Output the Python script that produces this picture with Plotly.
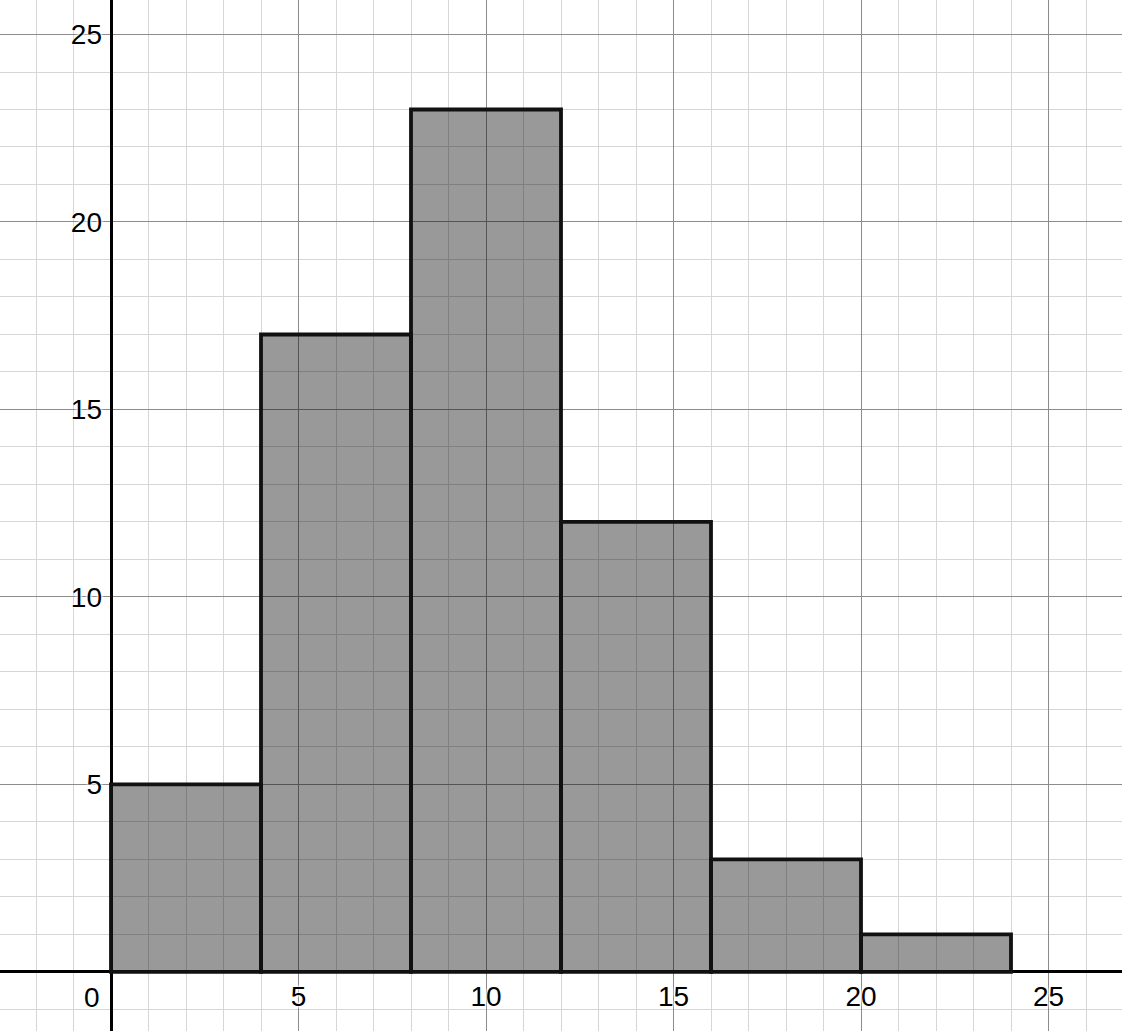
import plotly.graph_objects as go

# Data
bin_starts = [0, 4, 8, 12, 16, 20]
bin_width = 4
counts = [5, 17, 23, 12, 3, 1]
x_tick_vals = [5, 10, 15, 20, 25]
y_tick_vals = [5, 10, 15, 20, 25]

x_range = [-2.96, 26.96]
y_range = [-1.575, 25.92]

centers = [s + bin_width / 2 for s in bin_starts]

fig = go.Figure()
fig.add_trace(go.Bar(
    x=centers, y=counts, width=[bin_width] * len(counts),
    marker=dict(color="rgba(0,0,0,0.4)", line=dict(color="#111111", width=3.8)),
    showlegend=False, hoverinfo="skip",
))

x0frac = (0 - y_range[0]) / (y_range[1] - y_range[0])
y0frac = (0 - x_range[0]) / (x_range[1] - x_range[0])

halo = "0px 0px 3px white, 0px 0px 3px white, 0px 0px 3px white"
tfont = dict(family="Liberation Sans, Arial, sans-serif", size=28, color="#000000", shadow=halo)

fig.update_layout(
    width=1122, height=1031,
    margin=dict(l=0, r=0, t=0, b=0),
    plot_bgcolor="white", paper_bgcolor="white",
    xaxis=dict(
        range=x_range, tickmode="array", tickvals=x_tick_vals,
        showgrid=True, gridcolor="#8c8c8c", gridwidth=1,
        minor=dict(dtick=1, tick0=0, showgrid=True, gridcolor="#d6d6d6", gridwidth=1),
        zeroline=True, zerolinecolor="#000000", zerolinewidth=3,
        anchor="free", position=x0frac, ticks="", ticklabelstandoff=5,
        tickfont=tfont, showline=False, fixedrange=True,
    ),
    yaxis=dict(
        range=y_range, tickmode="array", tickvals=y_tick_vals,
        showgrid=True, gridcolor="#8c8c8c", gridwidth=1,
        minor=dict(dtick=1, tick0=0, showgrid=True, gridcolor="#d6d6d6", gridwidth=1),
        zeroline=True, zerolinecolor="#000000", zerolinewidth=3,
        anchor="free", position=y0frac, ticks="", ticklabelstandoff=9,
        tickfont=tfont, showline=False, fixedrange=True,
    ),
    annotations=[dict(
        x=0, y=0, xref="x", yref="y", text="0", showarrow=False,
        xanchor="right", yanchor="top", xshift=-9, yshift=-8, font=tfont,
    )],
)

fig.write_html("out.html", config={"displayModeBar": False},
               post_script="document.body.style.margin='0';")
